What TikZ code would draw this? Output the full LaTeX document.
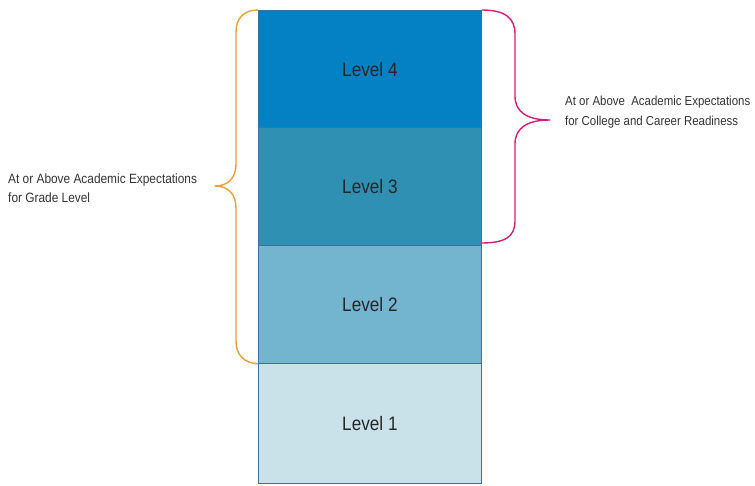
\documentclass[tikz,border=0pt]{standalone}
\usepackage{fontspec}
\setmainfont{Liberation Sans}[FakeStretch=0.88]
\begin{document}
\begin{tikzpicture}[x=1pt,y=-1pt,
  lvl/.style={draw=lvlborder,line width=0.8pt,minimum width=223pt,minimum height=118pt,anchor=north west,inner sep=0pt,font=\fontsize{19.5}{22}\selectfont,text=black!85},
  lbl/.style={anchor=west,align=left,font=\fontsize{13.5}{19.5}\selectfont,text=black!80,inner sep=0pt},
  brace/.style={line width=1.4pt,line join=round}]
\definecolor{lvlborder}{HTML}{3F70A2}
\definecolor{cfour}{HTML}{0381C4}
\definecolor{cthree}{HTML}{2F90B3}
\definecolor{ctwo}{HTML}{73B4CE}
\definecolor{cone}{HTML}{C9E2E9}
\definecolor{orng}{HTML}{EAA034}
\definecolor{pnk}{HTML}{D21F7C}
\useasboundingbox (0,0) rectangle (755,485);
\node[lvl,fill=cfour] (l4) at (258,10) {Level 4};
\node[lvl,fill=cthree] (l3) at (258,127) {Level 3};
\node[lvl,fill=ctwo] (l2) at (258,245) {Level 2};
\node[lvl,fill=cone,minimum height=120pt] (l1) at (258,363) {Level 1};
% orange brace
\draw[brace,orng] (l4.north west) .. controls (244,10) and (236,18) .. (236,32)
  -- (236,164) .. controls (236,178) and (228,186) .. (215,186)
  .. controls (228,186) and (236,194) .. (236,208)
  -- (236,341) .. controls (236,355) and (244,363) .. (l2.south west);
% pink brace
\draw[brace,pnk] (l4.north east) .. controls (505,10) and (515,18) .. (515,34)
  -- (515,96) .. controls (515,112) and (527,120) .. (550,120)
  .. controls (527,120) and (515,128) .. (515,144)
  -- (515,221) .. controls (515,237) and (505,243) .. (481,243);
\node[lbl] (t1) at (8,188) {At or Above Academic Expectations\\for Grade Level};
\node[lbl,font=\fontsize{13}{19.5}\selectfont] (t2) at (565,112) {At or Above\ \ Academic Expectations\\for College and Career Readiness};
\end{tikzpicture}
\end{document}
